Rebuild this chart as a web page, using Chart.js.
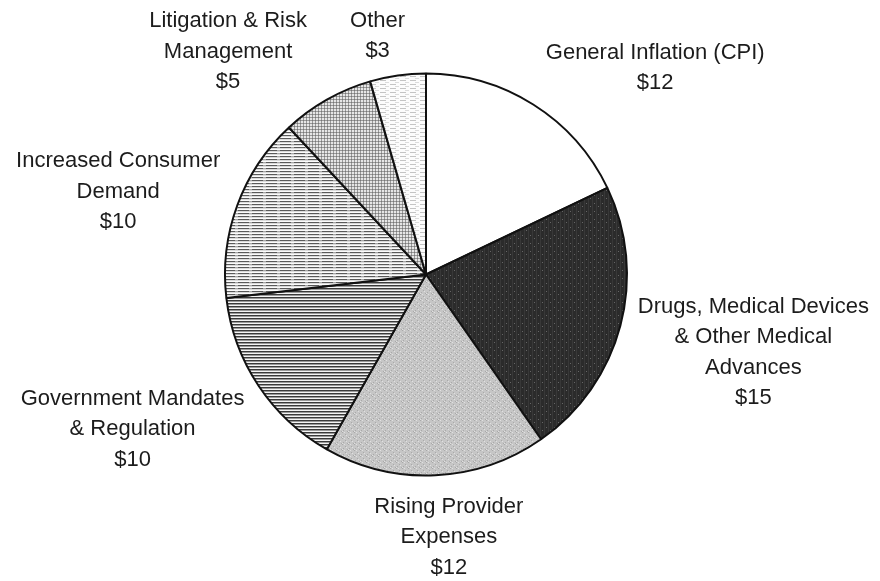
<!DOCTYPE html>
<html>
<head>
<meta charset="utf-8">
<script src="https://cdn.jsdelivr.net/npm/chart.js@4.4.1/dist/chart.umd.min.js"></script>
<style>
  html, body { margin: 0; padding: 0; background: #fff; }
  #wrap { width: 880px; height: 581px; position: relative; }
</style>
</head>
<body>
<div id="wrap"><canvas id="grafico"></canvas></div>
<script>
// dados (dólares por categoria)
const categorias = [
  ['General Inflation (CPI)'],
  ['Drugs, Medical Devices', '& Other Medical', 'Advances'],
  ['Rising Provider', 'Expenses'],
  ['Government Mandates', '& Regulation'],
  ['Increased Consumer', 'Demand'],
  ['Litigation & Risk', 'Management'],
  ['Other']
];
const valores = [12, 15, 12, 10, 10, 5, 3];

// deslocamento de cada bloco de texto em relação ao ponto radial
const deslocRotulos = [[106, -11], [104, 19], [12, 32], [-101, 27], [-91, -3], [-84, -22], [-16, -10]];

// texturas em tons de cinza, como na impressão original
function textura(w, h, desenha) {
  const c = document.createElement('canvas');
  c.width = w; c.height = h;
  const g = c.getContext('2d');
  desenha(g);
  return g.createPattern(c, 'repeat');
}

const escuro = textura(8, 8, g => {
  g.fillStyle = '#2b2b2b'; g.fillRect(0, 0, 8, 8);
  g.fillStyle = '#383838'; g.fillRect(0, 0, 1, 8); g.fillRect(4, 0, 1, 8);
  g.fillStyle = '#666'; g.fillRect(2, 3, 1, 1); g.fillRect(6, 6, 1, 1);
});
const claroPontilhado = textura(6, 6, g => {
  g.fillStyle = '#c6c6c6'; g.fillRect(0, 0, 6, 6);
  g.fillStyle = '#a9a9a9'; g.fillRect(0, 0, 1, 1); g.fillRect(3, 2, 1, 1); g.fillRect(1, 4, 1, 1); g.fillRect(5, 5, 1, 1);
  g.fillStyle = '#e0e0e0'; g.fillRect(2, 0, 1, 1); g.fillRect(4, 3, 1, 1); g.fillRect(0, 5, 1, 1);
});
const linhasDensas = textura(4, 3, g => {
  g.fillStyle = '#f4f4f4'; g.fillRect(0, 0, 4, 3);
  g.fillStyle = '#3a3a3a'; g.fillRect(0, 0, 4, 1);
  g.fillStyle = '#9a9a9a'; g.fillRect(0, 1, 4, 1);
});
const linhasLeves = textura(14, 3, g => {
  g.fillStyle = '#fbfbfb'; g.fillRect(0, 0, 14, 3);
  g.fillStyle = '#5a5a5a'; g.fillRect(0, 0, 11, 1);
  g.fillStyle = '#a8a8a8'; g.fillRect(11, 0, 3, 1);
  g.fillStyle = '#dadada'; g.fillRect(0, 1, 14, 1);
});
const grade = textura(3, 3, g => {
  g.fillStyle = '#e6e6e6'; g.fillRect(0, 0, 3, 3);
  g.fillStyle = '#9a9a9a'; g.fillRect(0, 0, 3, 1); g.fillRect(0, 0, 1, 3);
  g.fillStyle = '#777'; g.fillRect(0, 0, 1, 1);
});
const tracosEsparsos = textura(10, 4, g => {
  g.fillStyle = '#fcfcfc'; g.fillRect(0, 0, 10, 4);
  g.fillStyle = '#c4c4c4'; g.fillRect(0, 0, 6, 1);
  g.fillStyle = '#dcdcdc'; g.fillRect(5, 2, 4, 1);
});

const preenchimentos = ['#ffffff', escuro, claroPontilhado, linhasDensas, linhasLeves, grade, tracosEsparsos];

// rótulos externos desenhados a partir de cada fatia
const rotulosExternos = {
  id: 'rotulosExternos',
  afterDatasetsDraw(chart) {
    const ctx = chart.ctx;
    const arcos = chart.getDatasetMeta(0).data;
    ctx.save();
    ctx.font = '22px "Liberation Sans", Arial, sans-serif';
    ctx.fillStyle = '#1c1c1c';
    ctx.textAlign = 'center';
    ctx.textBaseline = 'middle';
    arcos.forEach((arco, i) => {
      const p = arco.getProps(['x', 'y', 'startAngle', 'endAngle', 'outerRadius'], true);
      const meio = (p.startAngle + p.endAngle) / 2;
      const r = p.outerRadius + 30;
      const cx = p.x + Math.cos(meio) * r + deslocRotulos[i][0];
      const cy = p.y + Math.sin(meio) * r + deslocRotulos[i][1];
      const linhas = categorias[i].concat(['$' + valores[i]]);
      linhas.forEach((t, k) => {
        ctx.fillText(t, cx, cy + (k - (linhas.length - 1) / 2) * 30.5);
      });
    });
    ctx.restore();
  }
};

new Chart(document.getElementById('grafico'), {
  type: 'pie',
  data: {
    labels: categorias.map(c => c.join(' ')),
    datasets: [{
      data: valores,
      backgroundColor: preenchimentos,
      borderColor: '#111',
      borderWidth: 2
    }]
  },
  options: {
    responsive: true,
    maintainAspectRatio: false,
    animation: false,
    layout: { padding: { left: 224, right: 252, top: 72, bottom: 104 } },
    plugins: {
      legend: { display: false },
      tooltip: { enabled: false }
    }
  },
  plugins: [rotulosExternos]
});
</script>
</body>
</html>
